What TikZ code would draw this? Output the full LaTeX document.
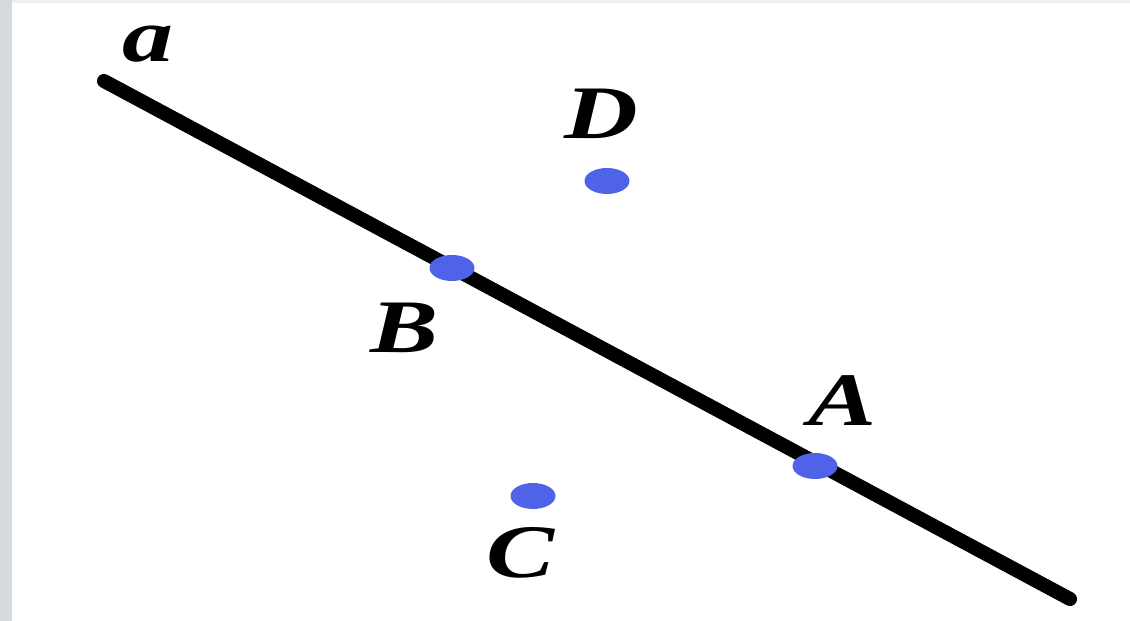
\documentclass[tikz,border=0pt]{standalone}
\usepackage{fontspec}
\setmainfont{Liberation Serif}
\usepackage{graphicx}
\usepackage{tikz}
\usetikzlibrary{
    arrows.meta,
    positioning,
    shapes.geometric
}
\usepackage{xcolor}
\definecolor{dotblue}{HTML}{4F63E8}
\definecolor{edgegray}{HTML}{D6DADD}
\definecolor{topgray}{HTML}{ECEFF1}
\newcommand{\wide}[1]{\scalebox{1.35}[1]{#1}}

\begin{document}
\begin{tikzpicture}[
        x=0.02cm, y=-0.02cm,
        pt/.style={
            ellipse,
            fill=dotblue,
            inner sep=0pt,
            minimum width=0.9cm,
            minimum height=0.52cm
        },
        lbl/.style={
            font=\fontsize{43}{43}\selectfont\bfseries\itshape,
            inner sep=0pt
        },
        axis/.style={
            line width=8pt,
            line cap=round
        }
    ]
        % frame
        \fill[topgray] (0,0) rectangle (1130,621);
        \fill[edgegray] (0,0) rectangle (12,621);
        \fill[white] (12,3) rectangle (1130,621);
        \useasboundingbox (0,0) rectangle (1130,621);

        \coordinate (L1) at (104,81);
        \coordinate (L2) at (1070,599);
        \draw[axis] (L1) -- (L2);

        \node[pt] (B) at (452,268) {};
        \node[pt] (A) at (815,466) {};
        \node[pt] (D) at (607,181) {};
        \node[pt] (C) at (533,496) {};

        \node[lbl] (la) at (148,44) {\wide{a}};
        \node[lbl] (lD) at (601,114) {\wide{D}};
        \node[lbl] (lB) at (405,328) {\wide{B}};
        \node[lbl] (lA) at (843,401) {\wide{A}};
        \node[lbl] (lC) at (521,553) {\wide{C}};
    \end{tikzpicture}
\end{document}
